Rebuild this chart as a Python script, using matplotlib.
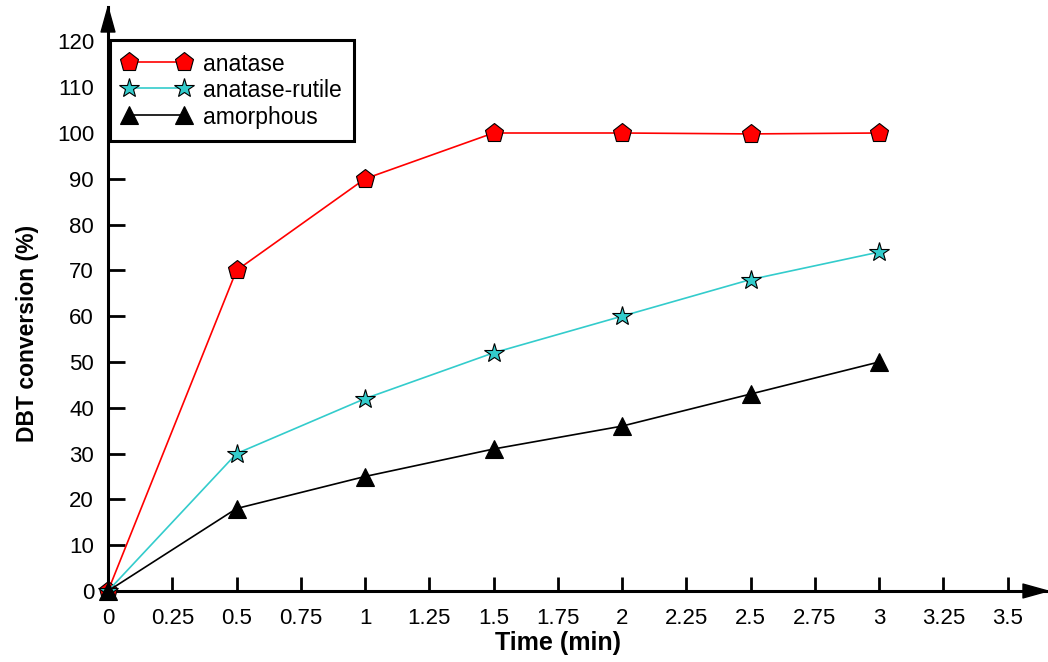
import matplotlib
matplotlib.use("Agg")
import matplotlib.pyplot as plt

plt.rcParams['font.family'] = ['Liberation Sans', 'DejaVu Sans']

time_min = [0, 0.5, 1, 1.5, 2, 2.5, 3]
anatase = [0, 70, 90, 100, 100, 99.8, 100]
anatase_rutile = [0, 30, 42, 52, 60, 68, 74]
amorphous = [0, 18, 25, 31, 36, 43, 50]
x_ticks = [0, 0.25, 0.5, 0.75, 1, 1.25, 1.5, 1.75, 2, 2.25, 2.5, 2.75, 3, 3.25, 3.5]
x_tick_labels = ['0', '0.25', '0.5', '0.75', '1', '1.25', '1.5', '1.75', '2', '2.25', '2.5', '2.75', '3', '3.25', '3.5']
y_ticks = [0, 10, 20, 30, 40, 50, 60, 70, 80, 90, 100, 110, 120]

W, H = 1048, 662
fig = plt.figure(figsize=(W/100, H/100), dpi=100)
ax_l, ax_r, ax_b, ax_t = 108, 1048, 591, 7
ax = fig.add_axes([ax_l/W, 1-ax_b/H, (ax_r-ax_l)/W, (ax_b-ax_t)/H])

x_px_per_unit = 257.0
y_px_per_unit = 4.58
ax.set_xlim(0, (ax_r-ax_l)/x_px_per_unit)
ax.set_ylim(0, (ax_b-ax_t)/y_px_per_unit)

ax.plot(time_min, anatase, color='#ff0000', lw=1.2, marker='p', ms=14,
        mfc='#ff0000', mec='black', mew=0.8, label='anatase', zorder=3, clip_on=False)
ax.plot(time_min, anatase_rutile, color='#33cccc', lw=1.2, marker='*', ms=15,
        mfc='#33cccc', mec='black', mew=0.8, label='anatase-rutile', zorder=3, clip_on=False)
ax.plot(time_min, amorphous, color='black', lw=1.2, marker='^', ms=13,
        mfc='black', mec='black', mew=0.8, label='amorphous', zorder=3, clip_on=False)

for s in ['top', 'right']:
    ax.spines[s].set_visible(False)
for s in ['left', 'bottom']:
    ax.spines[s].set_linewidth(2.2)

# arrow heads
arrow_kw = dict(facecolor='black', edgecolor='black', width=0.01, headwidth=10,
                headlength=18, shrink=0)
ax.annotate('', xy=(1.0, 0), xytext=(0.97, 0), xycoords='axes fraction',
            arrowprops=arrow_kw, annotation_clip=False)
ax.annotate('', xy=(0, 1.0), xytext=(0, 0.95), xycoords='axes fraction',
            arrowprops=arrow_kw, annotation_clip=False)

ax.set_xticks(x_ticks)
ax.set_xticklabels(x_tick_labels)
ax.set_yticks(y_ticks)
ax.tick_params(axis='both', direction='in', width=2.0, labelsize=16)
ax.tick_params(axis='x', pad=12, length=10)
ax.tick_params(axis='y', pad=10, length=12)

ax.set_xlabel('Time (min)', fontsize=18, fontweight='bold')
ax.xaxis.set_label_coords((558-ax_l)/(ax_r-ax_l), -(631-ax_b)/(ax_b-ax_t))
fig.text(28/W, 1-333/H, 'DBT conversion (%)', rotation=90, fontsize=16.5,
         fontweight='bold', ha='center', va='center')

leg = ax.legend(loc='upper left', bbox_to_anchor=(110/W, 1-40/H),
                bbox_transform=fig.transFigure, numpoints=2, fontsize=16.5,
                frameon=True, fancybox=False, framealpha=1, edgecolor='black',
                borderpad=0.55, labelspacing=0.15, handlelength=3.0, handleheight=1.0,
                handletextpad=0.5, borderaxespad=0)
leg.get_frame().set_linewidth(2.2)
leg.set_zorder(5)

fig.savefig('out.png', dpi=100)
